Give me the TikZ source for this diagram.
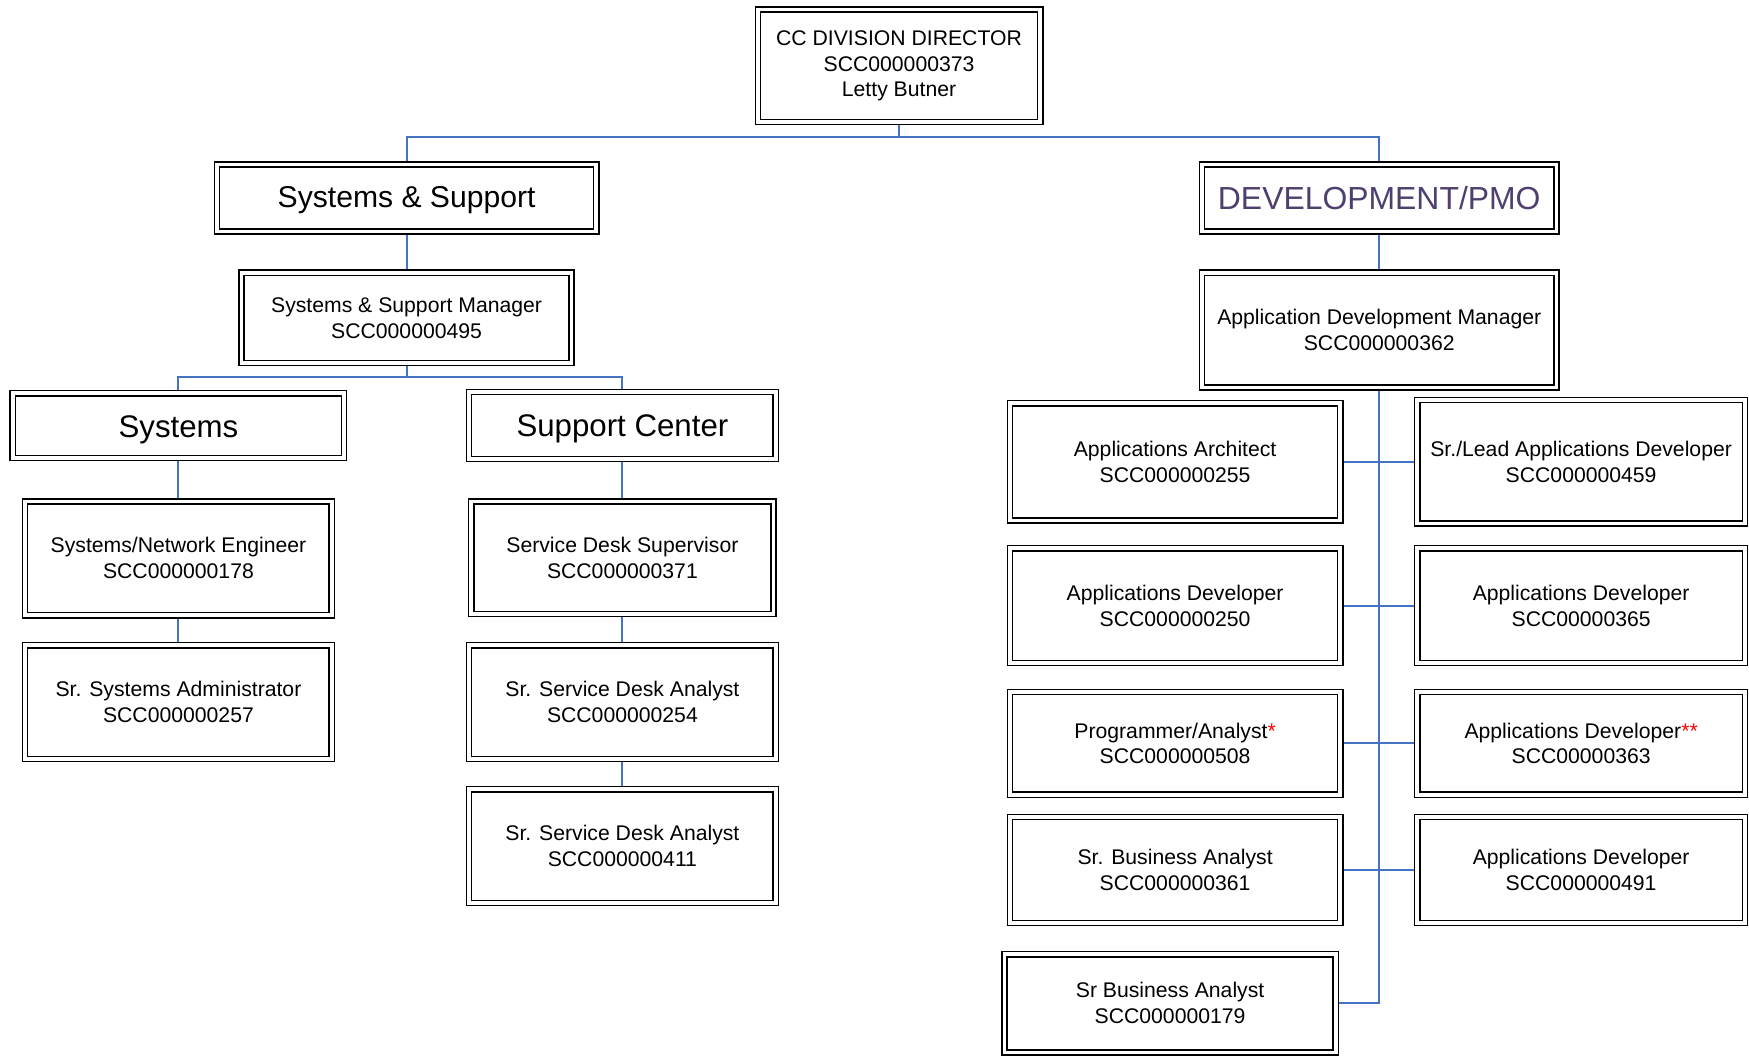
\documentclass[tikz,border=0pt]{standalone}
\usepackage{fontspec}
\setmainfont{Liberation Sans}
\usetikzlibrary{backgrounds}
\definecolor{conncol}{HTML}{4472C4}
\definecolor{devcol}{HTML}{4F3F6E}
\tikzset{
  box/.style={draw=black, double=white, double distance=1.6pt, line width=0.7pt,
    align=center, inner sep=0pt, font=\fontsize{9.5}{11.6}\selectfont},
  big/.style={font=\fontsize{14}{16}\selectfont},
  conn/.style={draw=conncol, line width=0.9pt},
}
\newcommand{\bx}[7][]{%
  \node[box,#1, minimum width={(#4-#2-5)*0.5pt}, minimum height={(#5-#3-5)*0.5pt}]
    (#6) at ({(#2+#4)/2},{(#3+#5)/2}) {#7};}
\newcommand{\lowr}[2]{\raisebox{-#1}[\height][\depth]{#2}}
\begin{document}
\begin{tikzpicture}[x=0.5pt,y=-0.5pt]
\useasboundingbox (0,0) rectangle (1568,946);
% top
\bx{677}{6}{935}{112}{dir}{CC DIVISION DIRECTOR\\SCC000000373\\Letty Butner}
\bx[font=\fontsize{13.5}{16}\selectfont]{192}{145}{537}{210}{ss}{\lowr{1pt}{Systems \& Support}}
\bx[font=\fontsize{14.3}{16}\selectfont, text=devcol]{1075}{145}{1398}{210}{dev}{DEVELOPMENT/PMO}
% left branch
\bx{214}{242}{515}{328}{ssm}{Systems \& Support Manager\\SCC000000495}
\bx[big]{9}{350}{311}{413}{sys}{\lowr{2pt}{Systems}}
\bx[big]{418}{349}{698}{414}{sc}{\lowr{1.5pt}{Support Center}}
\bx{20}{447}{300}{554}{sne}{Systems/Network Engineer\\SCC000000178}
\bx{20}{576}{300}{683}{ssa}{Sr. Systems Administrator\\SCC000000257}
\bx{420}{447}{696}{553}{sds}{Service Desk Supervisor\\SCC000000371}
\bx{418}{576}{698}{683}{sda}{Sr. Service Desk Analyst\\SCC000000254}
\bx{418}{705}{698}{812}{sdb}{Sr. Service Desk Analyst\\SCC000000411}
% right branch
\bx{1075}{242}{1398}{350}{adm}{Application Development Manager\\SCC000000362}
\bx{903}{359}{1204}{469}{aa}{Applications Architect\\SCC000000255}
\bx{1268}{356}{1567}{472}{sla}{Sr./Lead Applications Developer\\SCC000000459}
\bx{903}{489}{1204}{597}{adA}{Applications Developer\\SCC000000250}
\bx{1268}{489}{1567}{597}{adB}{Applications Developer\\SCC00000365}
\bx{903}{618}{1204}{715}{pa}{Programmer/Analyst\textcolor{red}{*}\\SCC000000508}
\bx{1268}{618}{1567}{715}{adC}{Applications Developer\textcolor{red}{**}\\SCC00000363}
\bx{903}{730}{1204}{830}{sba}{Sr. Business Analyst\\SCC000000361}
\bx{1268}{730}{1567}{830}{adD}{Applications Developer\\SCC000000491}
\bx{898}{853}{1200}{946}{sbb}{Sr Business Analyst\\SCC000000179}
\begin{scope}[on background layer]
\draw[conn] (dir.south) -- ++(0,13) coordinate (tj) -| (ss.north);
\draw[conn] (tj) -| (dev.north);
\draw[conn] (ss.south) -- (ssm.north);
\draw[conn] (ssm.south) -- ++(0,12) coordinate (mj) -| (sys.north);
\draw[conn] (mj) -| (sc.north);
\draw[conn] (sys.south) -- (sne.north);
\draw[conn] (sne.south) -- (ssa.north);
\draw[conn] (sc.south) -- (sds.north);
\draw[conn] (sds.south) -- (sda.north);
\draw[conn] (sda.south) -- (sdb.north);
\draw[conn] (dev.south) -- (adm.north);
\draw[conn] (adm.south) -- (adm.south |- sbb.east) -- (sbb.east);
\draw[conn] (aa.east) -- (aa.east -| sla.west);
\draw[conn] (adA.east) -- (adA.east -| adB.west);
\draw[conn] (pa.east) -- (pa.east -| adC.west);
\draw[conn] (sba.east) -- (sba.east -| adD.west);
\end{scope}
\end{tikzpicture}
\end{document}
